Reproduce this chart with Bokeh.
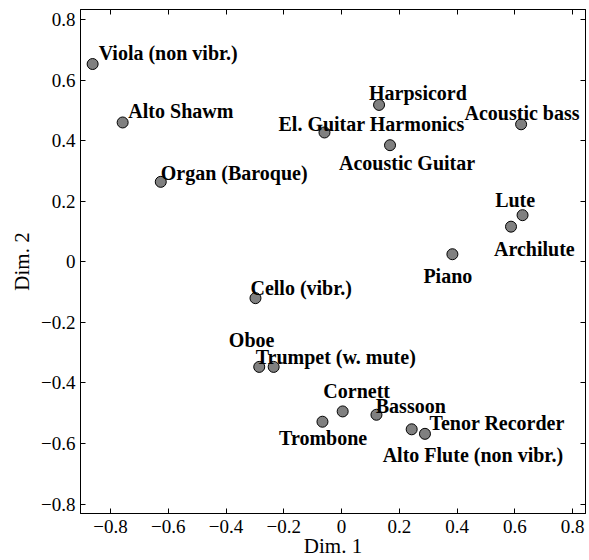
from bokeh.plotting import figure
from bokeh.models import ColumnDataSource, LinearAxis, FixedTicker, CustomJSTickFormatter, Range1d
from bokeh.core.properties import value
from bokeh.embed import file_html
from bokeh.resources import INLINE

# ---- data ----
instruments = ["Viola (non vibr.)", "Alto Shawm", "Organ (Baroque)", "Harpsicord",
               "El. Guitar Harmonics", "Acoustic Guitar", "Acoustic bass", "Lute",
               "Archilute", "Piano", "Cello (vibr.)", "Oboe", "Trumpet (w. mute)",
               "Cornett", "Trombone", "Bassoon", "Tenor Recorder", "Alto Flute (non vibr.)"]
dim1 = [-0.862, -0.758, -0.626, 0.130, -0.059, 0.168, 0.622, 0.627, 0.587, 0.384,
        -0.298, -0.285, -0.235, 0.004, -0.066, 0.121, 0.243, 0.289]
dim2 = [0.653, 0.460, 0.264, 0.518, 0.427, 0.385, 0.454, 0.154, 0.116, 0.025,
        -0.120, -0.347, -0.347, -0.494, -0.528, -0.505, -0.553, -0.568]

x_ticks = [-0.8, -0.6, -0.4, -0.2, 0, 0.2, 0.4, 0.6, 0.8]
x_tick_labels = ["\u22120.8", "\u22120.6", "\u22120.4", "\u22120.2", "0", "0.2", "0.4", "0.6", "0.8"]
y_ticks = [-0.8, -0.6, -0.4, -0.2, 0, 0.2, 0.4, 0.6, 0.8]
y_tick_labels = ["\u22120.8", "\u22120.6", "\u22120.4", "\u22120.2", "0", "0.2", "0.4", "0.6", "0.8"]

# label placement (screen pixels, relative to each marker)
label_dx = [6, 5.7, 0, -10, -46, -51, -56.6, -27.4, -17, -29, -5, -30.4, -18, -19.3, -43.4, -0.7, 17.7, -42.3]
label_dy = [-11, -11.3, -8.4, -12, -8.3, 18.3, -11.3, -15, 22.6, 21.7, -10, -26.6, -10, -20, 16.3, -8.3, -6.4, 20.7]

FONT = "Liberation Serif"

p = figure(width=589, height=560, output_backend="svg", toolbar_location=None,
           x_range=Range1d(-0.904, 0.845), y_range=Range1d(-0.831, 0.833),
           min_border_left=80, min_border_right=4, min_border_top=9, min_border_bottom=46)
p.grid.visible = False
p.outline_line_color = "black"
p.outline_line_width = 1
p.background_fill_color = "white"
p.border_fill_color = "white"

src = ColumnDataSource(dict(x=dim1, y=dim2, name=instruments, dx=label_dx, dy=label_dy))
p.scatter("x", "y", source=src, size=11, fill_color="#808080", line_color="black", line_width=1)
p.text("x", "y", text="name", source=src, x_offset="dx", y_offset="dy",
       text_font=value(FONT), text_font_style="bold", text_font_size="20px",
       text_color="black", text_align="left", text_baseline="alphabetic")

def style_axis(ax, ticks, labels, axis_label=None):
    ax.ticker = FixedTicker(ticks=ticks)
    ax.major_label_overrides = {t: l for t, l in zip(ticks, labels)}
    ax.major_tick_in = 5
    ax.major_tick_out = 0
    ax.minor_tick_line_color = None
    ax.axis_line_color = "black"
    ax.major_tick_line_color = "black"
    ax.major_label_text_font = FONT
    ax.major_label_text_font_size = "19px"
    ax.major_label_text_color = "black"
    if axis_label is not None:
        ax.axis_label = axis_label
        ax.axis_label_text_font = FONT
        ax.axis_label_text_font_size = "21px"
        ax.axis_label_text_font_style = "normal"
        ax.axis_label_text_color = "black"

style_axis(p.xaxis[0], x_ticks, x_tick_labels, "Dim. 1")
style_axis(p.yaxis[0], y_ticks, y_tick_labels, "Dim. 2")
p.xaxis[0].major_label_standoff = 6
p.xaxis[0].axis_label_standoff = -2
p.yaxis[0].major_label_standoff = 5
p.yaxis[0].axis_label_standoff = 4

for loc, ticks in (("above", x_ticks), ("right", y_ticks)):
    ax = LinearAxis(ticker=FixedTicker(ticks=ticks), formatter=CustomJSTickFormatter(code="return ''"))
    ax.major_tick_in = 5
    ax.major_tick_out = 0
    ax.minor_tick_line_color = None
    ax.axis_line_color = "black"
    ax.major_tick_line_color = "black"
    ax.major_label_standoff = 0
    ax.major_label_text_font_size = "1px"
    p.add_layout(ax, loc)

open("out.html", "w").write(file_html(p, INLINE))
